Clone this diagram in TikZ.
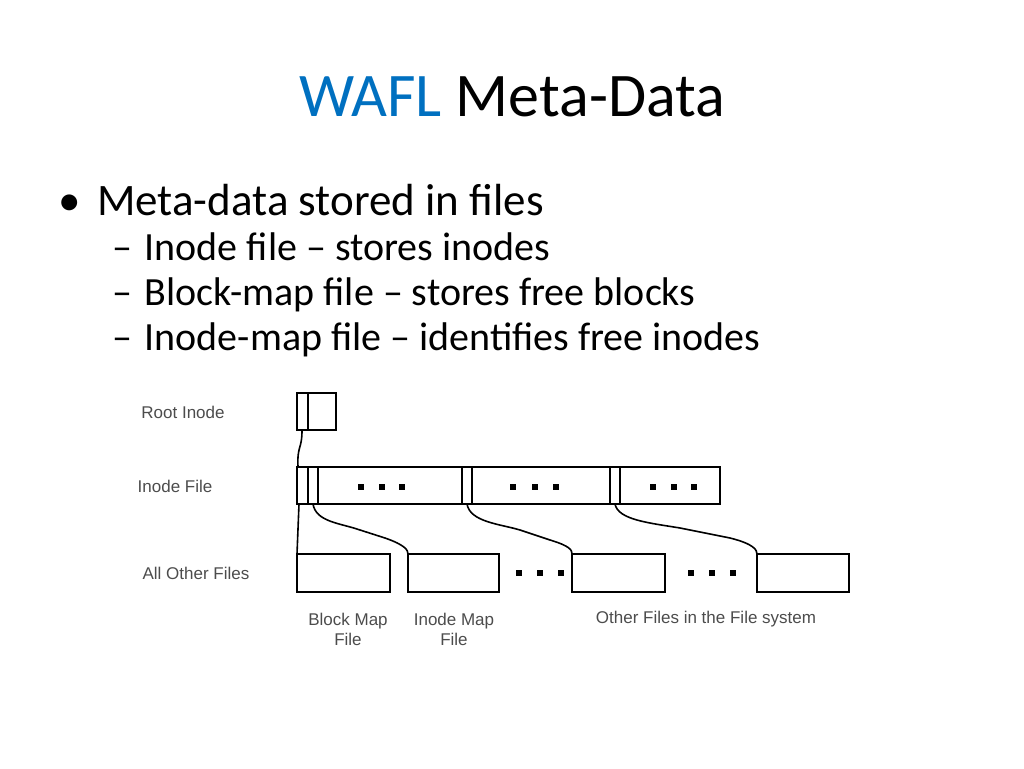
\documentclass[tikz,border=0pt]{standalone}
\usepackage{fontspec}
\setmainfont{Carlito}
\newfontfamily\lblfont{Liberation Sans}
\definecolor{waflblue}{RGB}{0,112,192}
\usetikzlibrary{positioning}

\begin{document}
\begin{tikzpicture}[x=1pt,y=-1pt,line width=1.6pt]
\tikzstyle{every node}=[inner sep=0pt]
\tikzstyle{lbl}=[font=\lblfont\fontsize{17}{20}\selectfont,text=black!70,align=center]
\tikzstyle{dot}=[fill=black,minimum size=6pt]
\useasboundingbox (0,0) rectangle (1024,768);
% title and bullets
\node[anchor=base] (title) at (512,116) {\fontsize{62}{70}\selectfont\textcolor{waflblue}{WAFL} Meta-Data};
\node[anchor=base west] (b1) at (58,215) {\fontsize{45}{50}\selectfont\textbullet\hspace{16pt}Meta-data stored in files};
\node[anchor=base west] (s1) at (112,260) {\fontsize{40}{44}\selectfont\textendash\hspace{12pt}Inode file \textendash\ stores inodes};
\node[anchor=base west] (s2) at (112,305) {\fontsize{40}{44}\selectfont\textendash\hspace{12pt}Block-map file \textendash\ stores free blocks};
\node[anchor=base west] (s3) at (112,350) {\fontsize{40}{44}\selectfont\textendash\hspace{12pt}Inode-map file \textendash\ identifies free inodes};
% row labels
\node[lbl] (lroot) at (183,412) {Root Inode};
\node[lbl] (linode) at (175,486) {Inode File};
\node[lbl] (lother) at (196,573) {All Other Files};
% root inode
\draw (297,393) rectangle (308,430) coordinate (rc);
\draw (308,393) rectangle (336,430);
% inode file
\draw (297,467) rectangle (308,504);
\draw (308,467) rectangle (318,504);
\draw (318,467) rectangle (462,504);
\draw (462,467) rectangle (472,504);
\draw (472,467) rectangle (610,504);
\draw (610,467) rectangle (620,504);
\draw (620,467) rectangle (720,504);
\foreach \x in {361,382,402,513,535,556,653,674,694}
  \node[dot] at (\x,487) {};
% all other files
\draw (297,554) rectangle (390,592);
\draw (408,554) rectangle (499,592);
\draw (572,554) rectangle (665,592);
\draw (757,554) rectangle (849,592);
\foreach \x in {519,540,561,691,712,733}
  \node[dot] at (\x,573) {};
% pointers
\draw (302,430) .. controls (302,450) and (297,445) .. (298,467);
\draw (299,504) -- (297,554);
\draw (313,504) .. controls (316,522) and (340,523) .. (360,530)
  -- (385,538) .. controls (405,545) and (408,550) .. (408,554);
\draw (467,504) .. controls (470,522) and (500,524) .. (520,530)
  -- (550,540) .. controls (570,546) and (572,550) .. (572,554);
\draw (615,504) .. controls (618,520) and (650,523) .. (680,528)
  -- (730,538) .. controls (754,544) and (757,550) .. (757,554);
% file labels
\node[lbl] (lblock) at (348,629) {Block Map\\File};
\node[lbl] (limap) at (454,629) {Inode Map\\File};
\node[lbl] (lrest) at (706,619) {Other Files in the File system};
\end{tikzpicture}
\end{document}
